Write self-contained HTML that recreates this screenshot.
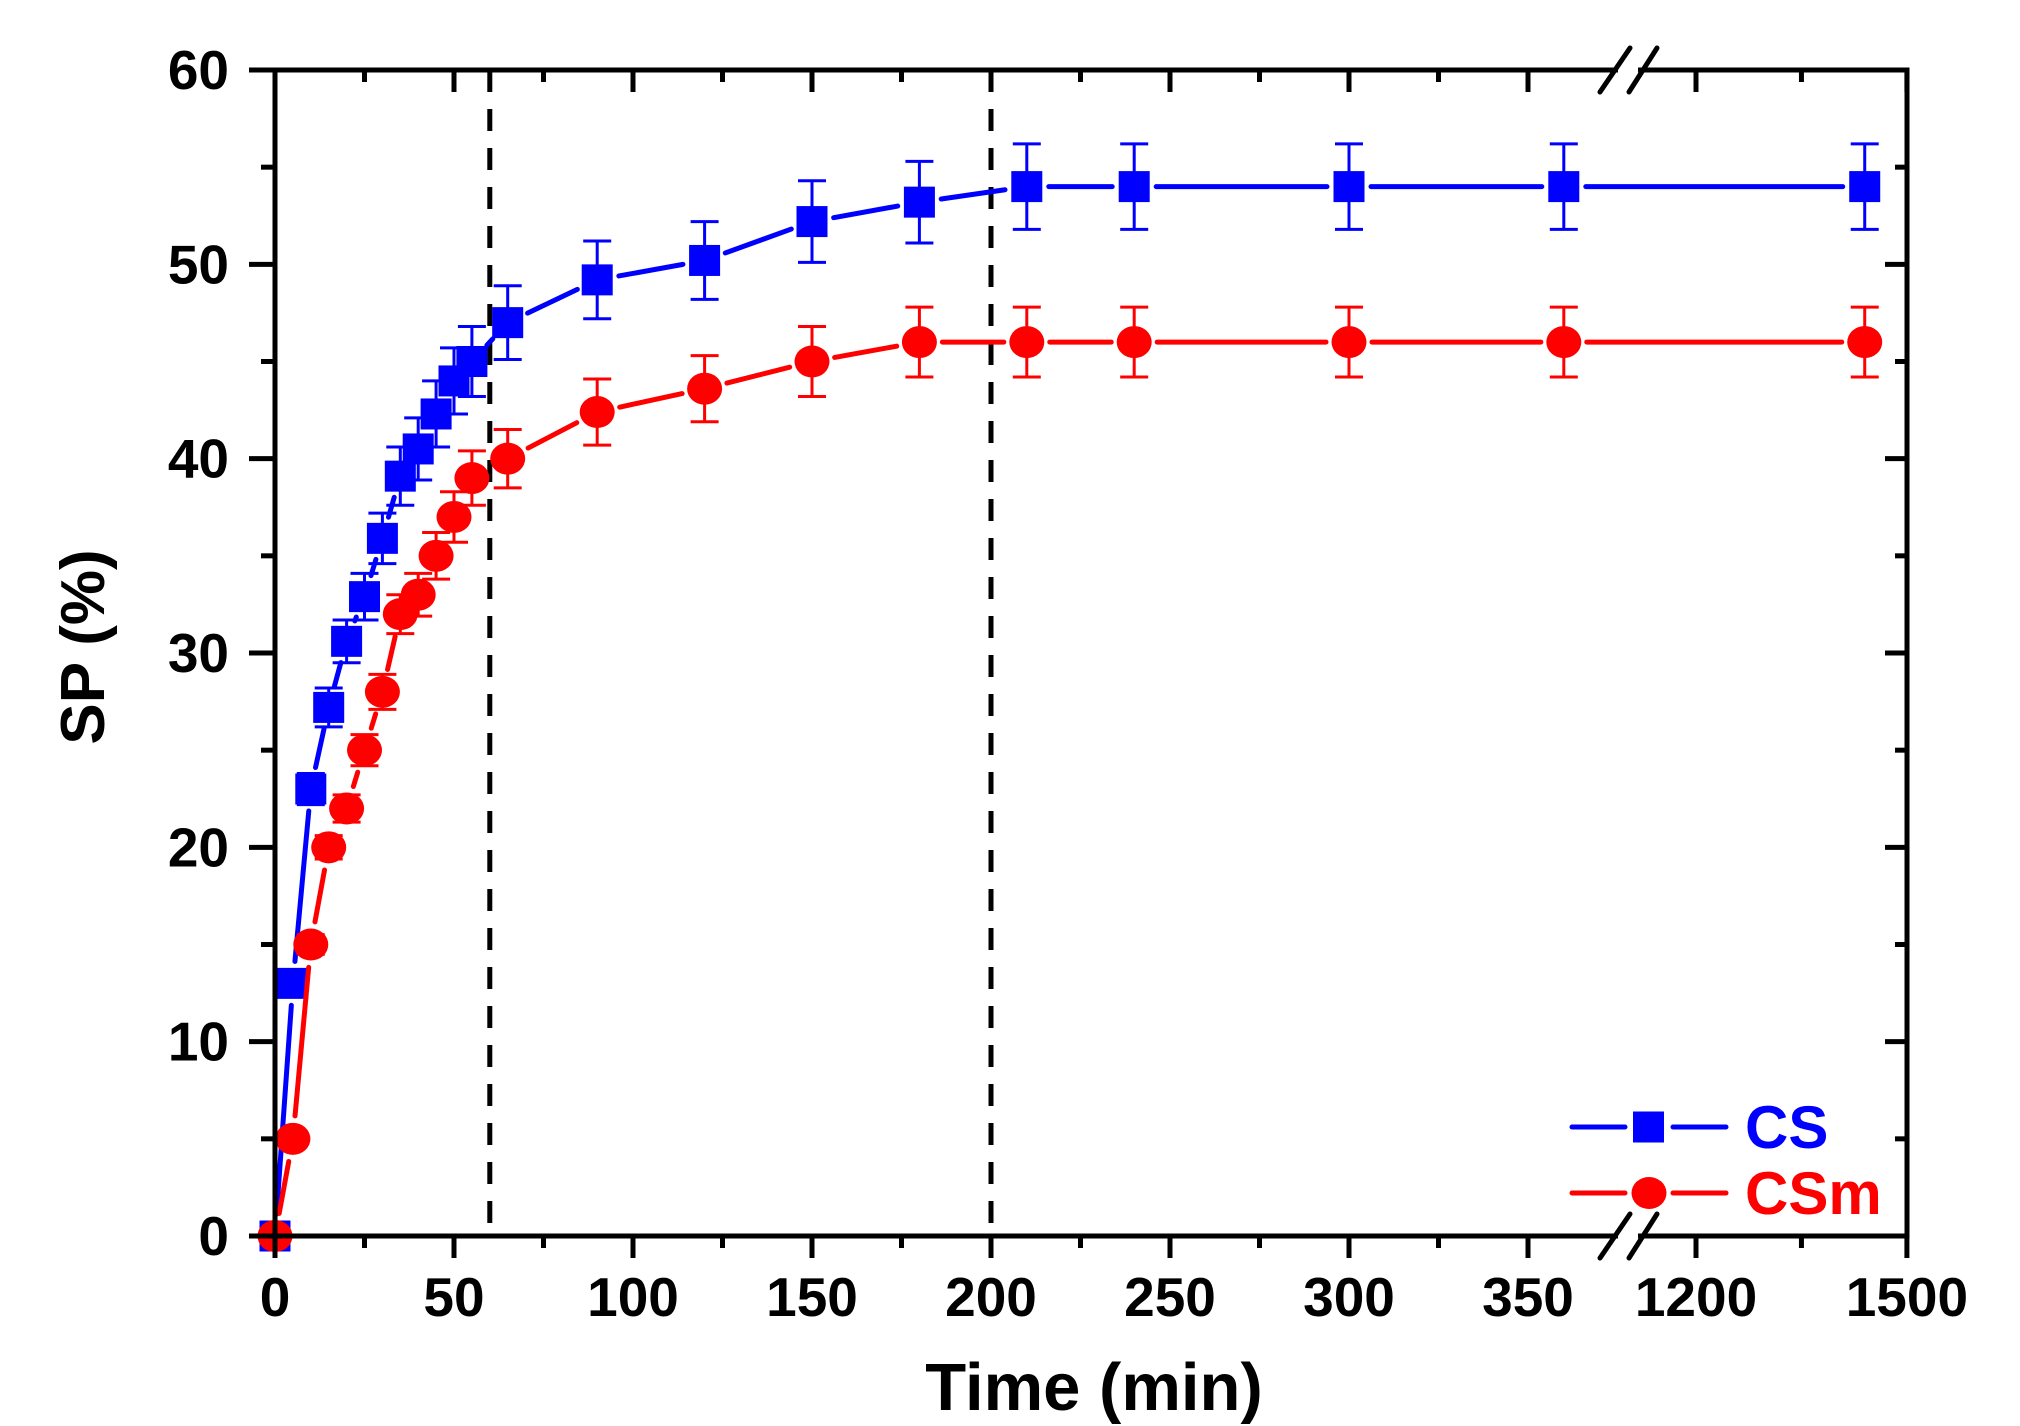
<!DOCTYPE html>
<html><head><meta charset="utf-8"><style>
html,body{margin:0;padding:0;background:#fff;}
svg{display:block;font-family:"Liberation Sans",Arial,sans-serif;font-weight:bold;}
</style></head><body>
<svg id="chart" width="2020" height="1426" viewBox="0 0 2020 1426" xmlns="http://www.w3.org/2000/svg">
<text x="1094" y="1410" font-size="67" text-anchor="middle">Time (min)</text>
<text transform="translate(104,647) rotate(-90)" font-size="62" text-anchor="middle">SP (%)</text>
</svg>
<script>
const times = [0,5,10,15,20,25,30,35,40,45,50,55,65,90,120,150,180,210,240,300,360,1440];
const csValues = [0,13,23,27.2,30.6,32.9,35.9,39.1,40.5,42.3,44,45,47,49.2,50.2,52.2,53.2,54,54,54,54,54];
const csErrors = [0,0.5,0.8,1,1.1,1.2,1.3,1.5,1.6,1.7,1.7,1.8,1.9,2,2,2.1,2.1,2.2,2.2,2.2,2.2,2.2];
const csmValues = [0,5,15,20,22,25,28,32,33,35,37,39,40,42.4,43.6,45,46,46,46,46,46,46];
const csmErrors = [0,0.4,0.5,0.6,0.7,0.8,0.9,1,1.1,1.2,1.3,1.4,1.5,1.7,1.7,1.8,1.8,1.8,1.8,1.8,1.8,1.8];
const xTicks1 = [0,50,100,150,200,250,300,350];
const xTicks2 = [1200,1500];
const yTicks = [0,10,20,30,40,50,60];
const vLines = [60,200];

const NS='http://www.w3.org/2000/svg';
const svg=document.getElementById('chart');
const L=275,R=1907,T=70,B=1236;
function X(t){return t<=400?L+3.58*t:1696+0.703*(t-1200);}
function Y(v){return B-(B-T)*v/60;}
function el(tag,attrs,parent){const e=document.createElementNS(NS,tag);for(const k in attrs)e.setAttribute(k,attrs[k]);(parent||svg).appendChild(e);return e;}

vLines.forEach(v=>{
  const l=el('line',{x1:X(v),x2:X(v),y1:T,y2:B,stroke:'#000','stroke-width':5,'stroke-dasharray':'22 17'});
  
  
});

function series(vals,errs,color,shape,name){
  const g=el('g',{});
  
  
  const pts=times.map((t,i)=>[X(t),Y(vals[i])]);
  const gap=shape==='sq'?22:23;
  for(let i=0;i<pts.length-1;i++){
    const [x1,y1]=pts[i],[x2,y2]=pts[i+1];
    const d=Math.hypot(x2-x1,y2-y1);
    if(d<=2*gap)continue;
    const ux=(x2-x1)/d,uy=(y2-y1)/d;
    const s=el('line',{x1:x1+ux*gap,y1:y1+uy*gap,x2:x2-ux*gap,y2:y2-uy*gap,stroke:color,'stroke-width':5,'stroke-linecap':'round'},g);
    
    
  }
  pts.forEach(([x,y],i)=>{
    if(errs[i]>0){
      const yt=Y(vals[i]+errs[i]),yb=Y(vals[i]-errs[i]);
      const e=el('path',{d:`M${x},${yt}V${yb}M${x-14},${yt}H${x+14}M${x-14},${yb}H${x+14}`,stroke:color,'stroke-width':3,fill:'none'},g);
      
      
    }
    let m;
    if(shape==='sq') m=el('rect',{x:x-15.5,y:y-15.5,width:31,height:31,fill:color},g);
    else m=el('ellipse',{cx:x,cy:y,rx:17.5,ry:16,fill:color},g);
    
    
  });
}
series(csValues,csErrors,'#0000ff','sq','cs');
series(csmValues,csmErrors,'#ff0000','ci','csm');

const frame=el('path',{d:`M${L},${T}H${R}V${B}H${L}Z`,fill:'none',stroke:'#000','stroke-width':5});


[T,B].forEach(y=>{
  const w=el('rect',{x:1618,y:y-4,width:20,height:8,fill:'#fff'});
  
  
  const b=el('path',{d:`M1600,${y+22}L1630,${y-22}M1629,${y+22}L1657,${y-22}`,stroke:'#000','stroke-width':5,'stroke-linecap':'round'});
  
  
});

function xTick(t,major,label){
  const x=X(t),len=major?22:12;
  const a=el('line',{x1:x,x2:x,y1:B,y2:B+len,stroke:'#000','stroke-width':5});
  
  
  const b=el('line',{x1:x,x2:x,y1:T,y2:T+len,stroke:'#000','stroke-width':5});
  
  
  if(label){
    const tx=el('text',{x:x,y:1316,'font-size':55,'text-anchor':'middle'});
    tx.textContent=String(t);
    
    
  }
}
xTicks1.forEach(t=>{xTick(t,true,true);if(t<350)xTick(t+25,false,false);});
xTicks2.forEach(t=>xTick(t,true,true));
xTick(1350,false,false);

yTicks.forEach(v=>{
  const y=Y(v);
  const a=el('line',{x1:L-26,x2:L,y1:y,y2:y,stroke:'#000','stroke-width':5});
  
  
  const b=el('line',{x1:R-22,x2:R,y1:y,y2:y,stroke:'#000','stroke-width':5});
  
  
  const tx=el('text',{x:229,y:y+19,'font-size':55,'text-anchor':'end'});
  tx.textContent=String(v);
  
  
  if(v<60){
    const ym=Y(v+5);
    const c=el('line',{x1:L-14,x2:L,y1:ym,y2:ym,stroke:'#000','stroke-width':5});
    
    
    const d=el('line',{x1:R-12,x2:R,y1:ym,y2:ym,stroke:'#000','stroke-width':5});
    
    
  }
});

[['CS','#0000ff','sq',1127],['CSm','#ff0000','ci',1193]].forEach(([lab,col,sh,y])=>{
  const g=el('g',{});
  
  
  el('line',{x1:1572,x2:1625,y1:y,y2:y,stroke:col,'stroke-width':5,'stroke-linecap':'round'},g);
  el('line',{x1:1673,x2:1726,y1:y,y2:y,stroke:col,'stroke-width':5,'stroke-linecap':'round'},g);
  if(sh==='sq') el('rect',{x:1633,y:y-15.5,width:31,height:31,fill:col},g);
  else el('ellipse',{cx:1649,cy:y,rx:17.5,ry:16,fill:col},g);
  const t=el('text',{x:1745,y:y+21,'font-size':60,fill:col},g);
  t.textContent=lab;
});
</script>
</body></html>
